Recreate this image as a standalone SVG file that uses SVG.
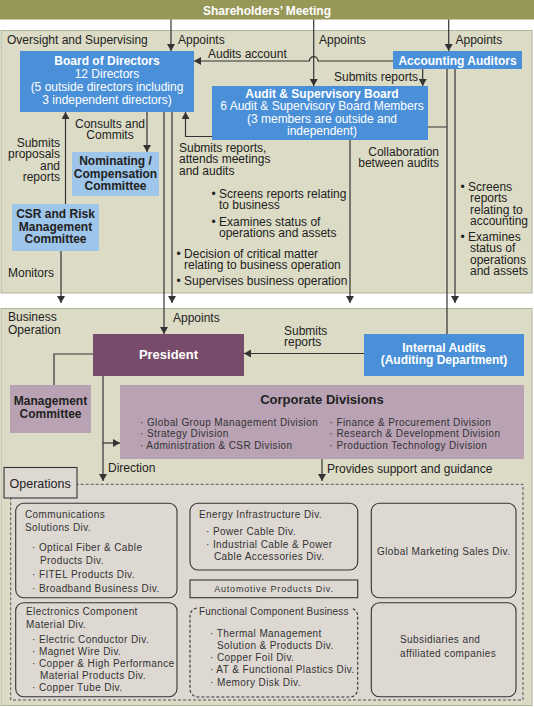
<svg xmlns="http://www.w3.org/2000/svg" width="534" height="707" viewBox="0 0 534 707">
<style>
text{font-family:"Liberation Sans",Arial,Helvetica,sans-serif;fill:#222;}
.t{font-size:12px;}
.b{font-size:12px;font-weight:bold;}
.w{fill:#fff;}
.c{text-anchor:middle;}
.e{text-anchor:end;}
.s{font-size:10px;letter-spacing:0.4px;fill:#333;}
.xs{font-size:9px;letter-spacing:0.8px;fill:#333;}
.ln{fill:none;stroke:#333;stroke-width:1.2;}
.ar{marker-end:url(#arr);}
.blue{fill:#4a90d9;}
.lblue{fill:#9ec5ea;}
.mauve{fill:#b8a2b3;}
.ops{fill:#ddd8d2;stroke:#333;stroke-width:1.1;}
</style>
<defs>
<marker id="arr" viewBox="0 0 7 8" refX="7" refY="4" markerWidth="7" markerHeight="8" markerUnits="userSpaceOnUse" orient="auto">
<path d="M0,0 L7,4 L0,8 z" fill="#333"/>
</marker>
</defs>
<rect x="0" y="0" width="534" height="707" fill="#fff"/>
<g id="panels">
<rect x="1" y="30.5" width="531" height="262.5" fill="#dcdbc5" stroke="#b3b39c" stroke-width="1"/>
<rect x="1" y="308.5" width="531" height="397" fill="#dcdbc5" stroke="#b3b39c" stroke-width="1"/>
<text class="t" x="7" y="44">Oversight and Supervising</text>
<text class="t" x="8" y="321">Business</text>
<text class="t" x="8" y="334">Operation</text>
</g>
<g id="shareholders">
<rect x="0" y="0" width="534" height="19.5" fill="#979758"/>
<text class="b w c" x="267" y="15">Shareholders’ Meeting</text>
</g>
<g id="connectors">
<path class="ln ar" d="M171,19.5 V51"/>
<path class="ln ar" d="M313.7,19.5 V86"/>
<path class="ln ar" d="M448.7,19.5 V51"/>
<path class="ln ar" d="M393,61 H318 A4,4 0 0 0 309.4,61 H194"/>
<path class="ln ar" d="M422.7,69 V86"/>
<path class="ln ar" d="M212,136.5 H185.5 V112"/>
<path class="ln" d="M428,127 H447 M447,69 V334"/>
<path class="ln ar" d="M455,69 V303"/>
<path class="ln ar" d="M350,140 V303"/>
<path class="ln ar" d="M172,112 V303"/>
<path class="ln ar" d="M164,112 V334"/>
<path class="ln ar" d="M147,112 V152"/>
<path class="ln ar" d="M65.5,204 V112"/>
<path class="ln ar" d="M61,251 V303"/>
<path class="ln ar" d="M364,353.5 H244"/>
<path class="ln" d="M93,354 H54 V385"/>
<path class="ln ar" d="M103,376 V481"/>
<path class="ln ar" d="M103,443 H120"/>
<path class="ln ar" d="M322,459 V481"/>
</g>
<g id="labels">
<text class="t" x="178" y="44">Appoints</text>
<text class="t" x="208" y="57.5">Audits account</text>
<text class="t" x="319" y="44">Appoints</text>
<text class="t" x="455.5" y="44">Appoints</text>
<text class="t e" x="418" y="81">Submits reports</text>
<text class="t c" x="110" y="127.5">Consults and</text>
<text class="t c" x="110" y="138.5">Commits</text>
<text class="t e" x="60" y="146.5">Submits</text>
<text class="t e" x="60" y="158">proposals</text>
<text class="t e" x="60" y="169.7">and</text>
<text class="t e" x="60" y="181.3">reports</text>
<text class="t" x="179" y="151.5">Submits reports,</text>
<text class="t" x="179" y="163.2">attends meetings</text>
<text class="t" x="179" y="175">and audits</text>
<text class="t e" x="439" y="155.5">Collaboration</text>
<text class="t e" x="439" y="166.5">between audits</text>
<text class="t" x="211.5" y="197.5">• Screens reports relating</text>
<text class="t" x="219" y="209">to business</text>
<text class="t" x="211.5" y="225.5">• Examines status of</text>
<text class="t" x="219" y="237">operations and assets</text>
<text class="t" x="176.5" y="257.5">• Decision of critical matter</text>
<text class="t" x="184" y="269">relating to business operation</text>
<text class="t" x="176.5" y="285">• Supervises business operation</text>
<text class="t" x="460.5" y="191">• Screens</text>
<text class="t" x="470" y="202.3">reports</text>
<text class="t" x="470" y="213.6">relating to</text>
<text class="t" x="470" y="225">accounting</text>
<text class="t" x="460.5" y="241">• Examines</text>
<text class="t" x="470" y="252.3">status of</text>
<text class="t" x="470" y="263.6">operations</text>
<text class="t" x="470" y="275">and assets</text>
<text class="t" x="8" y="277">Monitors</text>
<text class="t" x="173" y="322">Appoints</text>
<text class="t" x="284" y="334.5">Submits</text>
<text class="t" x="284" y="345.5">reports</text>
<text class="t" x="108" y="472">Direction</text>
<text class="t" x="327" y="472.5">Provides support and guidance</text>
</g>
<g id="board">
<rect class="blue" x="20" y="51" width="174" height="61"/>
<text class="b w c" x="107" y="65">Board of Directors</text>
<text class="t w c" x="107" y="78">12 Directors</text>
<text class="t w c" x="107" y="91">(5 outside directors including</text>
<text class="t w c" x="107" y="103.5">3 independent directors)</text>
</g>
<g id="accounting-auditors">
<rect class="blue" x="393" y="51" width="129" height="18"/>
<text class="b w c" x="457.5" y="64.5">Accounting Auditors</text>
</g>
<g id="audit-board">
<rect class="blue" x="212" y="86" width="216" height="54"/>
<text class="b w c" x="322" y="98">Audit &amp; Supervisory Board</text>
<text class="t w c" x="322" y="110">6 Audit &amp; Supervisory Board Members</text>
<text class="t w c" x="322" y="122.5">(3 members are outside and</text>
<text class="t w c" x="322" y="135">independent)</text>
</g>
<g id="nominating">
<rect class="lblue" x="72" y="152" width="87" height="44"/>
<text class="b c" x="115.5" y="164.5">Nominating /</text>
<text class="b c" x="115.5" y="177.5">Compensation</text>
<text class="b c" x="115.5" y="190">Committee</text>
</g>
<g id="csr">
<rect class="lblue" x="12" y="204" width="87" height="47"/>
<text class="b c" x="55.5" y="218.3">CSR and Risk</text>
<text class="b c" x="55.5" y="231">Management</text>
<text class="b c" x="55.5" y="243.3">Committee</text>
</g>
<g id="president">
<rect x="93" y="334" width="151" height="42" fill="#774b6a"/>
<text class="w c" x="168.5" y="359" style="font-size:13px;font-weight:bold;fill:#fff">President</text>
</g>
<g id="internal-audits">
<rect class="blue" x="364" y="334" width="160" height="42"/>
<text class="b w c" x="444" y="351.5">Internal Audits</text>
<text class="b w c" x="444" y="364.3">(Auditing Department)</text>
</g>
<g id="management-committee">
<rect class="mauve" x="10" y="385" width="81" height="48"/>
<text class="b c" x="50.5" y="404.5">Management</text>
<text class="b c" x="50.5" y="417.5">Committee</text>
</g>
<g id="corporate-divisions">
<rect class="mauve" x="120" y="385" width="404" height="74"/>
<text class="c" x="322" y="403.5" style="font-size:13px;font-weight:bold">Corporate Divisions</text>
<text class="s" x="140" y="425.5">· Global Group Management Division</text>
<text class="s" x="140" y="437">· Strategy Division</text>
<text class="s" x="140" y="448.5">· Administration &amp; CSR Division</text>
<text class="s" x="329.5" y="425.5">· Finance &amp; Procurement Division</text>
<text class="s" x="329.5" y="437">· Research &amp; Development Division</text>
<text class="s" x="329.5" y="448.5">· Production Technology Division</text>
</g>
<g id="operations">
<rect x="10.7" y="484.3" width="512.3" height="215.7" fill="#ddd8d2" stroke="#555" stroke-width="1" stroke-dasharray="3,2"/>
<rect x="4" y="467.5" width="73" height="30.5" fill="#ddd8d2" stroke="#333" stroke-width="1.1"/>
<text x="9.5" y="488" style="font-size:12.5px">Operations</text>
</g>
<g id="communications">
<rect class="ops" x="15.7" y="503.3" width="161.3" height="94.4" rx="8"/>
<text class="s" x="25" y="518">Communications</text>
<text class="s" x="25" y="531">Solutions Div.</text>
<text class="s" x="32" y="551">· Optical Fiber &amp; Cable</text>
<text class="s" x="40" y="564">Products Div.</text>
<text class="s" x="32" y="578">· FITEL Products Div.</text>
<text class="s" x="32" y="592">· Broadband Business Div.</text>
</g>
<g id="electronics">
<rect class="ops" x="15.7" y="602.7" width="161.3" height="94" rx="8"/>
<text class="s" x="26" y="615">Electronics Component</text>
<text class="s" x="26" y="628">Material Div.</text>
<text class="s" x="32" y="643">· Electric Conductor Div.</text>
<text class="s" x="32" y="655">· Magnet Wire Div.</text>
<text class="s" x="32" y="667">· Copper &amp; High Performance</text>
<text class="s" x="40" y="679">Material Products Div.</text>
<text class="s" x="32" y="691">· Copper Tube Div.</text>
</g>
<g id="energy">
<rect class="ops" x="190" y="503.3" width="167.7" height="66.7" rx="8"/>
<text class="s" x="199" y="518">Energy Infrastructure Div.</text>
<text class="s" x="206" y="535">· Power Cable Div.</text>
<text class="s" x="206" y="548">· Industrial Cable &amp; Power</text>
<text class="s" x="214" y="560">Cable Accessories Div.</text>
</g>
<g id="automotive">
<rect x="190" y="580" width="167.7" height="17.7" fill="#ddd8d2" stroke="#333" stroke-width="1.1"/>
<text class="xs c" x="274" y="592">Automotive Products Div.</text>
</g>
<g id="functional">
<rect x="190" y="608" width="167.7" height="89" rx="8" fill="#ddd8d2" stroke="#333" stroke-width="1.1" stroke-dasharray="3,2"/>
<rect x="197" y="604" width="154" height="8" fill="#ddd8d2"/>
<text class="s" x="199" y="615" style="letter-spacing:0.2px">Functional Component Business</text>
<text class="s" x="210" y="636.5">· Thermal Management</text>
<text class="s" x="217" y="648.5">Solution &amp; Products Div.</text>
<text class="s" x="210" y="661">· Copper Foil Div.</text>
<text class="s" x="210" y="673">· AT &amp; Functional Plastics Div.</text>
<text class="s" x="210" y="685.5">· Memory Disk Div.</text>
</g>
<g id="global-marketing">
<rect class="ops" x="371.3" y="503.3" width="144.7" height="94.4" rx="8"/>
<text class="s c" x="443.7" y="555">Global Marketing Sales Div.</text>
</g>
<g id="subsidiaries">
<rect class="ops" x="371.3" y="602.7" width="144.7" height="94" rx="8"/>
<text class="s" x="400" y="643">Subsidiaries and</text>
<text class="s" x="400" y="656.5">affiliated companies</text>
</g>
</svg>
